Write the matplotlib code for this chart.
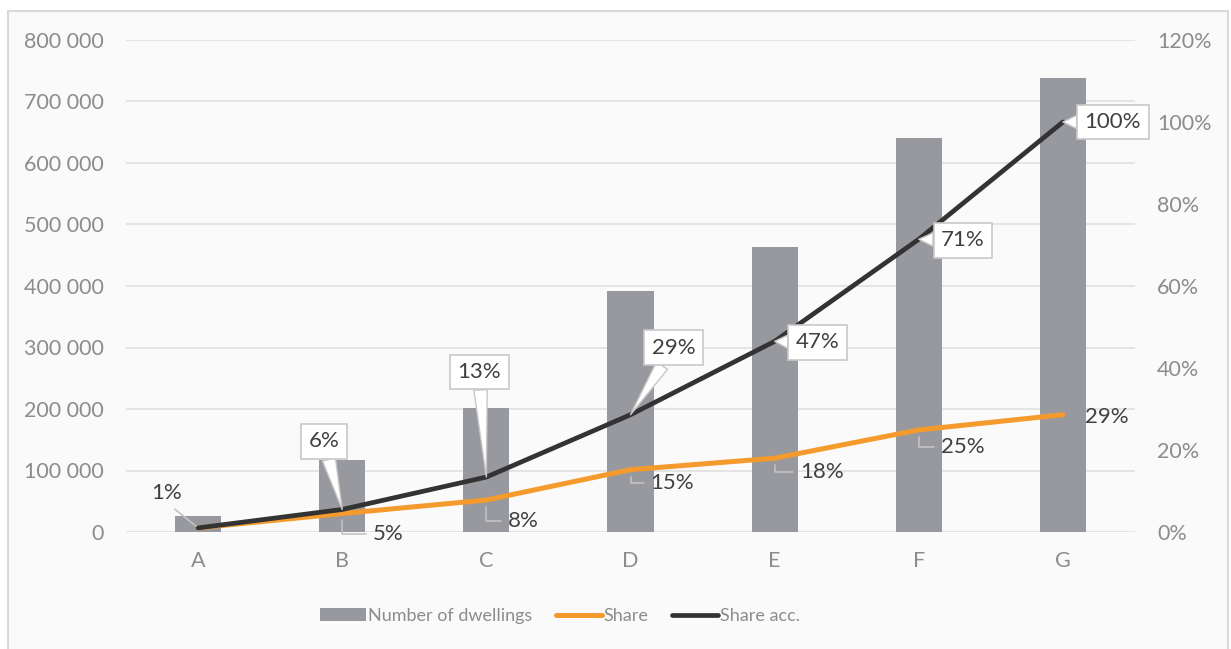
import numpy as np
import matplotlib.pyplot as plt
from matplotlib.patches import Rectangle
from matplotlib.ticker import FuncFormatter, MultipleLocator

# data
categories = ["A", "B", "C", "D", "E", "F", "G"]
dwellings = [26000, 117000, 202000, 392000, 463000, 641000, 738000]
share = [0.010, 0.045, 0.078, 0.152, 0.180, 0.249, 0.286]
share_acc = [0.010, 0.055, 0.134, 0.286, 0.465, 0.714, 1.000]
share_labels = ["", "5%", "8%", "15%", "18%", "25%", "29%"]
acc_labels = ["1%", "6%", "13%", "29%", "47%", "71%", "100%"]

# colours
bar_col = "#98999e"
orange = "#f59a2c"
dark = "#333333"
grid_col = "#e2e2e2"
tick_col = "#8c8c8c"
lab_col = "#404040"
leader_col = "#c3c3c3"

plt.rcParams["font.family"] = ["Lato", "DejaVu Sans"]

fig = plt.figure(figsize=(12.31, 6.49), dpi=100, facecolor="white")
# chart area frame
fig.patches.append(Rectangle((7.5 / 1231, -0.01), (1228 - 7.5) / 1231, 1.01 - 11 / 649,
                             transform=fig.transFigure, fc="#fafafa", ec="#d9d9d9", lw=1.5, zorder=-5))

ax = fig.add_axes([126 / 1231, 1 - 532 / 649, (1135 - 126) / 1231, (532 - 40) / 649])
ax.set_facecolor("none")
ax2 = ax.twinx()

x = np.arange(len(categories))
bars = ax.bar(x, dwellings, width=0.32, color=bar_col, zorder=2, label="Number of dwellings")

ax.set_xlim(-0.5, len(categories) - 0.5)
ax.set_ylim(0, 800000)
ax.yaxis.set_major_locator(MultipleLocator(100000))
ax.yaxis.set_major_formatter(FuncFormatter(lambda v, p: f"{int(v):,}".replace(",", " ")))
ax.grid(axis="y", color=grid_col, lw=1.3, zorder=0)
ax.set_axisbelow(True)
ax.set_xticks(x)
ax.set_xticklabels(categories)

ax2.set_ylim(0, 1.2)
ax2.yaxis.set_major_locator(MultipleLocator(0.2))
ax2.yaxis.set_major_formatter(FuncFormatter(lambda v, p: f"{v * 100:.0f}%"))

for a in (ax, ax2):
    for s in a.spines.values():
        s.set_visible(False)
    a.tick_params(length=0, labelsize=15.5, labelcolor=tick_col, pad=16)
ax.tick_params(axis="x", pad=14)

l1, = ax2.plot(x, share, color=orange, lw=3.6, solid_capstyle="round", zorder=3, label="Share")
l2, = ax2.plot(x, share_acc, color=dark, lw=3.4, solid_capstyle="round", zorder=4, label="Share acc.")

lab_size = 16

# labels of the accumulated share, callout boxes
acc_offsets = [(-31, 35), (-18, 68), (-7, 105), (43, 67), (43, -1), (44, -1), (50, 0)]
for i, (txt, (dx, dy)) in enumerate(zip(acc_labels, acc_offsets)):
    if i == 0:
        ax2.annotate(txt, xy=(i, share_acc[i]), xytext=(dx, dy), textcoords="offset pixels",
                     ha="center", va="center", fontsize=lab_size, color=lab_col, zorder=6,
                     arrowprops=dict(arrowstyle="-", color=leader_col, lw=1.2,
                                     relpos=(0.5, 0), shrinkA=4, shrinkB=2))
        continue
    ax2.annotate(txt, xy=(i, share_acc[i]), xytext=(dx, dy), textcoords="offset pixels",
                 ha="center", va="center", fontsize=lab_size, color=lab_col, zorder=6,
                 bbox=dict(boxstyle="square,pad=0.33", fc="white", ec="#c8c8c8", lw=1.2),
                 arrowprops=dict(arrowstyle="wedge,tail_width=0.6,shrink_factor=0.5",
                                 fc="white", ec="#c8c8c8", lw=1, shrinkA=0, shrinkB=0))

# labels of the share, leader lines
share_offsets = [(0, 0), (46, -20), (37, -21), (42, -13), (47, -14), (44, -17), (44, -2)]
for i, (txt, (dx, dy)) in enumerate(zip(share_labels, share_offsets)):
    if not txt:
        continue
    props = None
    if i < len(categories) - 1:
        props = dict(arrowstyle="-", color=leader_col, lw=1.2,
                     connectionstyle="angle,angleA=0,angleB=90,rad=0",
                     relpos=(0, 0.5), shrinkA=3, shrinkB=5)
    ax2.annotate(txt, xy=(i, share[i]), xytext=(dx, dy), textcoords="offset pixels",
                 ha="center", va="center", fontsize=lab_size, color=lab_col, zorder=6,
                 arrowprops=props)

fig.legend([bars, l1, l2], ["Number of dwellings", "Share", "Share acc."],
           loc="center", bbox_to_anchor=(560 / 1231, 1 - 616 / 649), ncol=3, frameon=False,
           handlelength=2.55, handletextpad=0.1, columnspacing=1.3,
           fontsize=13, labelcolor=tick_col)

fig.savefig("out.png", dpi=100, facecolor="white")
